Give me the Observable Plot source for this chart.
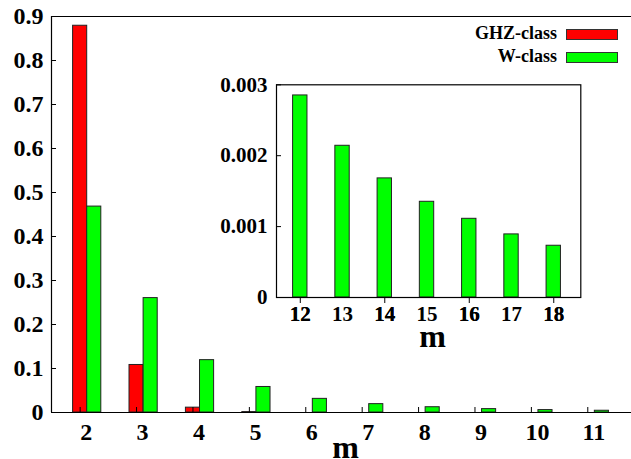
<!DOCTYPE html>
<html>
<head>
<meta charset="utf-8">
<script src="https://cdn.jsdelivr.net/npm/d3@7"></script>
<script src="https://cdn.jsdelivr.net/npm/@observablehq/plot@0.6"></script>
<style>
  html, body { margin: 0; padding: 0; background: #fff; }
  #wrap { position: relative; width: 631px; height: 459px; overflow: hidden;
          font-family: "Liberation Serif", "Times New Roman", serif; font-weight: bold; }
  #main { position: absolute; left: 0; top: 0; }
  #inset { position: absolute; left: 200px; top: 60px; }
  .leg-text { position: absolute; font-size: 18px; line-height: 18px; white-space: nowrap; text-align: right; }
  .leg-swatch { position: absolute; width: 50px; height: 9px; border: 1px solid #333; }
</style>
</head>
<body>
<div id="wrap">
  <div id="main"></div>
  <div id="inset"></div>
  <div id="legend"></div>
</div>
<script>
// ---- data ----
const series = ["GHZ-class", "W-class"];
const seriesColors = ["#ff0000", "#00ff00"];

const mMain = [2, 3, 4, 5, 6, 7, 8, 9, 10, 11];
const ghzMain = [0.879, 0.108, 0.011, 0.001, 0, 0, 0, 0, 0, 0];
const wMain = [0.468, 0.260, 0.119, 0.058, 0.031, 0.019, 0.012, 0.0077, 0.0055, 0.004];
const mainYTicks = [0, 0.1, 0.2, 0.3, 0.4, 0.5, 0.6, 0.7, 0.8, 0.9];

const mInset = [12, 13, 14, 15, 16, 17, 18];
const wInset = [0.00285, 0.00214, 0.00168, 0.00135, 0.00111, 0.00089, 0.00073];
const insetYTicks = [0, 0.001, 0.002, 0.003];

const axisLabel = "m";

// ---- main chart ----
const barW = 0.25;
const mainRows = mMain.flatMap((m, i) => [
  { m, cls: series[0], v: ghzMain[i], x1: m - barW, x2: m },
  { m, cls: series[1], v: wMain[i], x1: m, x2: m + barW }
]);
const font = "Liberation Serif";
const txtMain = { fontFamily: font, fontWeight: "bold", fontSize: 24 };
const txtInset = { fontFamily: font, fontWeight: "bold", fontSize: 21 };
const fmtMain = d => d === 0 ? "0" : d.toFixed(1);
const fmtInset = d => d === 0 ? "0" : d.toFixed(3);
const xMin = 1.367, xMax = 11.65;

const main = Plot.plot({
  width: 631,
  height: 459,
  marginLeft: 51,
  marginRight: 0,
  marginTop: 16,
  marginBottom: 47,
  style: { fontFamily: font, fontWeight: "bold", fontSize: "24px", background: "#fff" },
  x: { type: "linear", domain: [xMin, xMax] },
  y: { type: "linear", domain: [0, 0.9] },
  color: { domain: series, range: seriesColors },
  marks: [
    Plot.rect(mainRows, { x1: "x1", x2: "x2", y1: 0, y2: "v", fill: "cls", stroke: "#222", strokeWidth: 1 }),
    Plot.axisY({ ticks: mainYTicks, tickSize: -5, label: null, tickFormat: () => "" }),
    Plot.text(mainYTicks, { y: d => d, frameAnchor: "left", textAnchor: "end", dx: -8, text: fmtMain, ...txtMain }),
    Plot.text(mMain, { x: d => d, frameAnchor: "bottom", lineAnchor: "top", dy: 10, dx: -1, text: d => String(d), ...txtMain }),
    Plot.axisX({ ticks: mMain.map(m => m - barW / 2), tickSize: -5, label: null, tickFormat: () => "" }),
    Plot.ruleY([0], { stroke: "#000", strokeWidth: 1.2 }),
    Plot.ruleY([0.9], { stroke: "#000", strokeWidth: 1.2 }),
    Plot.ruleX([xMin], { stroke: "#000", strokeWidth: 1.2 }),
    Plot.text([axisLabel], { frameAnchor: "bottom", lineAnchor: "middle", dy: 35, dx: 4, text: d => d,
                             fontFamily: font, fontSize: 32, fontWeight: "bold" })
  ]
});
document.getElementById("main").appendChild(main);

// ---- inset ----
const insetW = 0.17;
const insetRows = mInset.map((m, i) => ({ m, v: wInset[i], x1: m - insetW, x2: m + insetW }));
const iXMin = 11.437, iXMax = 18.64;
const inset = Plot.plot({
  width: 390,
  height: 300,
  marginLeft: 76,
  marginRight: 9.7,
  marginTop: 24.3,
  marginBottom: 63,
  style: { fontFamily: font, fontWeight: "bold", fontSize: "21px", background: "transparent" },
  x: { type: "linear", domain: [iXMin, iXMax] },
  y: { type: "linear", domain: [0, 0.003] },
  marks: [
    Plot.rect(insetRows, { x1: "x1", x2: "x2", y1: 0, y2: "v", fill: seriesColors[1], stroke: "#222", strokeWidth: 1 }),
    Plot.axisY({ ticks: insetYTicks, tickSize: -5, label: null, tickFormat: () => "" }),
    Plot.text(insetYTicks, { y: d => d, frameAnchor: "left", textAnchor: "end", dx: -9, text: fmtInset, ...txtInset }),
    Plot.text(mInset, { x: d => d, frameAnchor: "bottom", lineAnchor: "top", dy: 9, text: d => String(d), ...txtInset }),
    Plot.frame({ stroke: "#000", strokeWidth: 1.2 }),
    Plot.text([axisLabel], { frameAnchor: "bottom", lineAnchor: "middle", dy: 39, dx: 4, text: d => d,
                             fontFamily: font, fontSize: 32, fontWeight: "bold" })
  ]
});
document.getElementById("inset").appendChild(inset);

// ---- legend ----
const legend = document.getElementById("legend");
const legCenters = [34, 57];
series.forEach((s, i) => {
  const t = document.createElement("div");
  t.className = "leg-text";
  t.textContent = s;
  t.style.right = (631 - 557) + "px";
  t.style.top = (legCenters[i] - 10) + "px";
  legend.appendChild(t);
  const sw = document.createElement("div");
  sw.className = "leg-swatch";
  sw.style.left = "566px";
  sw.style.top = (legCenters[i] - 5.5) + "px";
  sw.style.background = seriesColors[i];
  legend.appendChild(sw);
});
</script>
</body>
</html>
